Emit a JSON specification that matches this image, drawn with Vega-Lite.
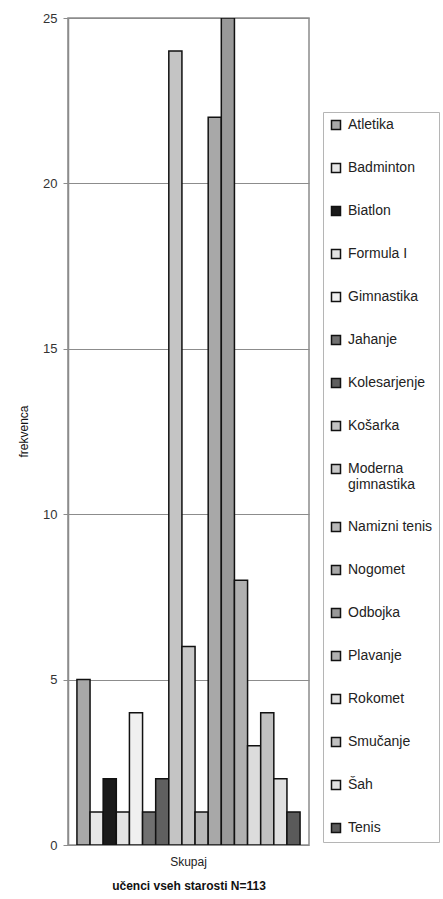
{
  "$schema": "https://vega.github.io/schema/vega-lite/v6.json",
  "width": 241,
  "height": 827,
  "autosize": {"type": "none"},
  "padding": {"left": 68, "top": 18, "right": 134, "bottom": 54},
  "background": "white",
  "config": {
    "view": {"stroke": "#8c8c8c", "strokeWidth": 1.5},
    "font": "Liberation Sans"
  },
  "data": {
    "values": [
      {"skupina": "Skupaj", "sport": "Atletika", "frekvenca": 5},
      {"skupina": "Skupaj", "sport": "Badminton", "frekvenca": 1},
      {"skupina": "Skupaj", "sport": "Biatlon", "frekvenca": 2},
      {"skupina": "Skupaj", "sport": "Formula I", "frekvenca": 1},
      {"skupina": "Skupaj", "sport": "Gimnastika", "frekvenca": 4},
      {"skupina": "Skupaj", "sport": "Jahanje", "frekvenca": 1},
      {"skupina": "Skupaj", "sport": "Kolesarjenje", "frekvenca": 2},
      {"skupina": "Skupaj", "sport": "Košarka", "frekvenca": 24},
      {"skupina": "Skupaj", "sport": "Moderna gimnastika", "frekvenca": 6},
      {"skupina": "Skupaj", "sport": "Namizni tenis", "frekvenca": 1},
      {"skupina": "Skupaj", "sport": "Nogomet", "frekvenca": 22},
      {"skupina": "Skupaj", "sport": "Odbojka", "frekvenca": 26},
      {"skupina": "Skupaj", "sport": "Plavanje", "frekvenca": 8},
      {"skupina": "Skupaj", "sport": "Rokomet", "frekvenca": 3},
      {"skupina": "Skupaj", "sport": "Smučanje", "frekvenca": 4},
      {"skupina": "Skupaj", "sport": "Šah", "frekvenca": 2},
      {"skupina": "Skupaj", "sport": "Tenis", "frekvenca": 1}
    ]
  },
  "mark": {"type": "bar", "stroke": "#111111", "strokeWidth": 1.5, "strokeOpacity": 1, "clip": true},
  "encoding": {
    "x": {
      "field": "skupina",
      "type": "nominal",
      "scale": {"paddingOuter": 0.04, "paddingInner": 0},
      "axis": {
        "title": "učenci vseh starosti N=113",
        "titleFontWeight": "bold",
        "titleFontSize": 12,
        "titleColor": "#111",
        "titleY": 40,
        "titleBaseline": "middle",
        "labelAngle": 0,
        "labelFontSize": 12,
        "labelColor": "#222",
        "labelPadding": 16,
        "labelBaseline": "middle",
        "ticks": false,
        "domain": false
      }
    },
    "xOffset": {
      "field": "sport",
      "type": "nominal",
      "sort": null,
      "scale": {"paddingInner": 0, "paddingOuter": 0}
    },
    "y": {
      "field": "frekvenca",
      "type": "quantitative",
      "scale": {"domain": [0, 25], "clamp": true, "nice": false},
      "axis": {
        "title": "frekvenca",
        "values": [0, 5, 10, 15, 20, 25],
        "titleFont": "Liberation Sans",
        "titleFontWeight": "normal",
        "titleFontSize": 12,
        "titleColor": "#111",
        "titleX": -45,
        "titleY": 413,
        "titleAlign": "center",
        "titleBaseline": "middle",
        "labelFontSize": 13,
        "labelColor": "#333",
        "labelPadding": 6,
        "tickSize": 5,
        "tickColor": "#8c8c8c",
        "domainColor": "#8c8c8c",
        "domainWidth": 1.5,
        "gridColor": "#8c8c8c",
        "gridWidth": 1
      }
    },
    "fill": {
      "field": "sport",
      "type": "nominal",
      "sort": null,
      "scale": {
        "domain": ["Atletika", "Badminton", "Biatlon", "Formula I", "Gimnastika", "Jahanje", "Kolesarjenje", "Košarka", "Moderna gimnastika", "Namizni tenis", "Nogomet", "Odbojka", "Plavanje", "Rokomet", "Smučanje", "Šah", "Tenis"],
        "range": ["#a8a8a8", "#e6e6e6", "#1a1a1a", "#e3e3e3", "#f0f0f0", "#707070", "#606060", "#c4c4c4", "#c8c8c8", "#b8b8b8", "#a8a8a8", "#999999", "#b0b0b0", "#dcdcdc", "#c0c0c0", "#e0e0e0", "#5a5a5a"]
      },
      "legend": {
        "title": null,
        "orient": "none",
        "legendX": 255,
        "legendY": 94,
        "symbolType": "square",
        "symbolSize": 81,
        "symbolStrokeColor": "#111",
        "symbolStrokeWidth": 1.5,
        "labelFontSize": 14,
        "labelColor": "#222",
        "labelOffset": 5,
        "labelLimit": 120,
        "rowPadding": 27,
        "padding": 6,
        "strokeColor": "#b5b5b5",
        "fillColor": "white",
        "labelExpr": "datum.label == 'Moderna gimnastika' ? ['Moderna', 'gimnastika'] : datum.label"
      }
    }
  }
}
